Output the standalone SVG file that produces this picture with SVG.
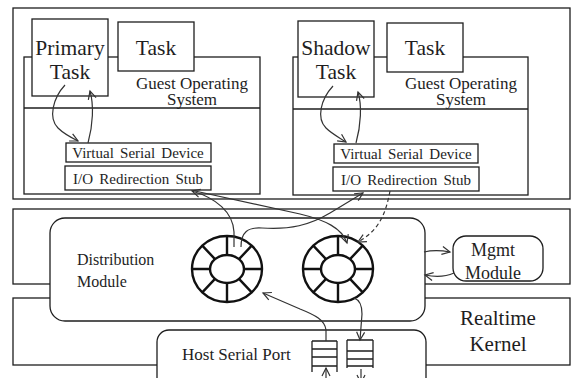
<svg xmlns="http://www.w3.org/2000/svg" width="572" height="378" viewBox="0 0 572 378">
<defs>
<style>
.bx{fill:#fff;stroke:#1e1e1e;stroke-width:1.3}
.fr{fill:none;stroke:#1e1e1e;stroke-width:1.3}
text{font-family:'Liberation Serif','Times New Roman',Times,'Nimbus Roman','Noto Serif','DejaVu Serif',FreeSerif,serif;fill:#1e1e1e}
.mid{text-anchor:middle}
.big{font-size:21.5px}
.gos{font-size:17px}
.dev{font-size:15px;word-spacing:2.5px}
.c{stroke:#333;stroke-width:1.2;fill:none;marker-end:url(#ah)}
.dash{stroke-dasharray:4,3}
.ring{fill:none;stroke:#111;stroke-width:2.4}
.q{fill:#fff;stroke:#1e1e1e;stroke-width:1.3}
</style>
<marker id="ah" viewBox="-10 -6 12 12" markerWidth="12" markerHeight="12" refX="0" refY="0" orient="auto" markerUnits="userSpaceOnUse">
<path d="M-8,-4 L0,0 L-8,4" fill="none" stroke="#333" stroke-width="1.2"/>
</marker>
<g id="ring">
<ellipse class="ring" cx="0" cy="0" rx="35" ry="33"/>
<ellipse class="ring" cx="0" cy="0" rx="17" ry="14"/>
<path class="ring" d="M17,0L35,0M12,9.9L24.7,23.3M0,14L0,33M-12,9.9L-24.7,23.3M-17,0L-35,0M-12,-9.9L-24.7,-23.3M0,-14L0,-33M12,-9.9L24.7,-23.3"/>
</g>
</defs>

<g id="frames">
<rect class="fr" x="13" y="8" width="557" height="191"/>
<rect class="fr" x="13" y="209" width="557" height="75"/>
<rect class="fr" x="13" y="298" width="557" height="67"/>
</g>

<g id="guest-left">
<rect class="bx" x="24" y="57" width="236" height="137"/>
<line class="fr" x1="24" y1="108" x2="260" y2="108"/>
<text class="mid gos" x="192" y="89">Guest Operating</text>
<text class="mid gos" x="192" y="105">System</text>
</g>
<g id="primary-task">
<rect class="bx" x="32" y="19" width="76" height="77"/>
<text class="mid big" x="70" y="55">Primary</text>
<text class="mid big" x="70" y="79">Task</text>
</g>
<g id="task-left">
<rect class="bx" x="118" y="22" width="76" height="49"/>
<text class="mid big" x="156" y="55">Task</text>
</g>
<g id="vsd-left">
<rect class="bx" x="66" y="143" width="145" height="19"/>
<text class="mid dev" x="138" y="158">Virtual Serial Device</text>
</g>
<g id="stub-left">
<rect class="bx" x="65" y="166" width="146" height="24"/>
<text class="mid dev" x="138" y="184">I/O Redirection Stub</text>
</g>

<g id="guest-right">
<rect class="bx" x="293" y="57" width="235" height="138"/>
<line class="fr" x1="293" y1="109" x2="528" y2="109"/>
<text class="mid gos" x="461" y="89">Guest Operating</text>
<text class="mid gos" x="461" y="105">System</text>
</g>
<g id="shadow-task">
<rect class="bx" x="298" y="21" width="76" height="76"/>
<text class="mid big" x="336" y="55">Shadow</text>
<text class="mid big" x="336" y="79">Task</text>
</g>
<g id="task-right">
<rect class="bx" x="387" y="23" width="76" height="49"/>
<text class="mid big" x="425" y="55">Task</text>
</g>
<g id="vsd-right">
<rect class="bx" x="334" y="144" width="144" height="19"/>
<text class="mid dev" x="406" y="159">Virtual Serial Device</text>
</g>
<g id="stub-right">
<rect class="bx" x="333" y="167" width="146" height="24"/>
<text class="mid dev" x="406" y="185">I/O Redirection Stub</text>
</g>

<g id="distribution-module">
<rect class="bx" x="50" y="218" width="375" height="103" rx="15"/>
<text style="font-size:16px" x="77" y="265">Distribution</text>
<text style="font-size:16px" x="77" y="287">Module</text>
</g>
<g id="ring-left"><use href="#ring" x="227" y="269"/></g>
<g id="ring-right"><use href="#ring" x="338" y="269"/></g>

<g id="mgmt-module">
<rect class="bx" x="453" y="236" width="90" height="45" rx="13"/>
<text class="mid" style="font-size:18px" x="493" y="256">Mgmt</text>
<text class="mid" style="font-size:18px" x="493" y="279">Module</text>
</g>

<g id="realtime-kernel">
<text class="mid" style="font-size:21px" x="498" y="325">Realtime</text>
<text class="mid" style="font-size:21px" x="498" y="351">Kernel</text>
</g>

<g id="host-serial-port">
<rect class="bx" x="157" y="330" width="269" height="62" rx="12"/>
<text style="font-size:17px" x="182" y="360">Host Serial Port</text>
</g>
<g id="queue-in">
<path class="q" d="M312,341V372M337,341V372M312,341H337M312,349H337M312,357H337M312,366H337"/>
</g>
<g id="queue-out">
<path class="q" d="M347,340V368M373,340V368M347,340H373M347,351H373M347,359H373M347,366H373"/>
</g>

<g id="connectors">
<path class="c" d="M65,85 C53,98 48,118 58,128 C64,134 72,138 78,141"/>
<path class="c" d="M88,143 C93,125 94,105 90,91"/>
<path class="c" d="M333,86 C321,99 316,118 326,128 C332,134 340,138 346,142"/>
<path class="c" d="M356,143 C361,125 362,105 358,92"/>
<path class="c" d="M234,247 L234,232 C233,212 216,198 192,191"/>
<path class="c" d="M195,191 L300,214 C325,220 342,228 347,243"/>
<path class="c" d="M241,247 C241,232 248,227 262,228 C290,230 310,225 330,213 L363,193"/>
<path class="c dash" d="M390,191 C386,212 380,230 358,242"/>
<path class="c" d="M326,341 L326,330 C325,320 315,315 300,309 L263,293"/>
<path class="c" d="M354,298 C360,300 362,305 362,314 L360,340"/>
<path class="c" d="M424,252 C432,250 440,250 450,252"/>
<path class="c" d="M454,273 C445,277 435,277 425,275"/>
<path class="c" d="M326,378 L326,368"/>
<path class="c" d="M361,369 L361,383"/>
</g>
</svg>
